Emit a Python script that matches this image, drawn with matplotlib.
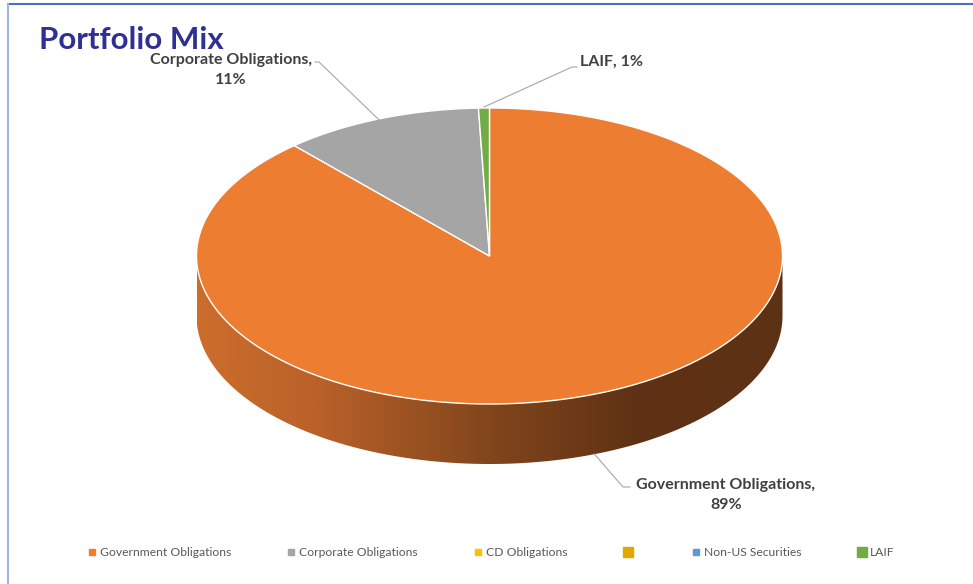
import numpy as np
import matplotlib.pyplot as plt
from matplotlib.patches import Polygon
from matplotlib.lines import Line2D
from matplotlib.colors import LinearSegmentedColormap

# data
categories = ['Government Obligations', 'Corporate Obligations', 'CD Obligations', '', 'Non-US Securities', 'LAIF']
values = [88.4, 11.0, 0.0, 0.0, 0.0, 0.6]
pct_text = ['89%', '11%', '0%', '0%', '0%', '1%']
colors = ['#ED7D31', '#A5A5A5', '#FFC000', '#E0A800', '#5B9BD5', '#70AD47']
legend_sizes = [4.5, 4.5, 4.5, 7.5, 4.5, 6.5]

plt.rcParams['font.family'] = ['Lato', 'DejaVu Sans']

fig = plt.figure(figsize=(9.73, 5.84), dpi=100)
ax = fig.add_axes([0, 0, 1, 1])

cx, cy, a, b, depth = 489.5, 256, 293, 148, 60


def rim(t, dy=0):
    t = np.radians(t)
    return cx + a * np.cos(t), cy - b * np.sin(t) + dy


# side of the disc (front half)
t = np.linspace(180, 360, 300)
xt, yt = rim(t)
xb, yb = rim(t[::-1], depth)
side = Polygon(np.column_stack([np.r_[xt, xb], np.r_[yt, yb]]), closed=True,
               fc='none', ec='none')
ax.add_patch(side)
cmap = LinearSegmentedColormap.from_list(
    'side', [(0, '#CC6D2C'), (0.2, '#BA622A'), (0.5, '#82451C'),
             (0.75, '#5F3214'), (1, '#5D3114')])
grad = np.linspace(0, 1, 512)[None, :]
im = ax.imshow(grad, cmap=cmap, extent=[cx - a, cx + a, cy + b + depth + 2, cy],
               aspect='auto', zorder=1, interpolation='bilinear')
im.set_clip_path(side)

# top wedges, clockwise from 12 o'clock
total = sum(values)
cum = 0
mids = []
for v, c in zip(values, colors):
    start = 90 - 360 * cum / total
    cum += v
    end = 90 - 360 * cum / total
    mids.append((start + end) / 2)
    if v == 0:
        continue
    tt = np.linspace(start, end, max(int(abs(start - end)) * 2, 4))
    x, y = rim(tt)
    pts = np.column_stack([np.r_[cx, x], np.r_[cy, y]])
    ax.add_patch(Polygon(pts, closed=True, fc=c, ec='white', lw=1.0, zorder=2))

# data labels with leader lines
lab_col = '#404040'
line_col = '#A6A6A6'
# Corporate
ax.text(231, 70, f'{categories[1]},\n{pct_text[1]}', ha='center', va='center',
        fontsize=11.5, fontweight='bold', color=lab_col, linespacing=1.6)
px, py = rim(mids[1])
ax.plot([315, 319, px, ], [62, 62, py + 2], color=line_col, lw=0.8, zorder=3)
# LAIF
ax.text(580, 62, f'{categories[5]}, {pct_text[5]}', ha='left', va='center',
        fontsize=11.5, fontweight='bold', color=lab_col)
px, py = rim(mids[5])
ax.plot([577, 572, px], [67, 67, py - 1], color=line_col, lw=0.8, zorder=3)
# Government
ax.text(726, 495, f'{categories[0]},\n{pct_text[0]}', ha='center', va='center',
        fontsize=11.5, fontweight='bold', color=lab_col, linespacing=1.6)
px, py = rim(-69, depth)
ax.plot([630, 623, px], [487, 487, py], color=line_col, lw=0.8, zorder=3)

# title
ax.text(39, 40, 'Portfolio Mix', ha='left', va='center', fontsize=22.5,
        fontweight='bold', color='#2E3192')

ax.set_xlim(0, 973)
ax.set_ylim(584, 0)
ax.axis('off')

# legend
handles = [Line2D([], [], marker='s', ls='none', color=c, markersize=s)
           for c, s in zip(colors, legend_sizes)]
leg = ax.legend(handles, categories, loc='center', bbox_to_anchor=(0.504, 1 - 553 / 584),
                ncol=6, frameon=False, fontsize=8.7, columnspacing=4.55,
                handletextpad=0.2, handlelength=0.9, labelcolor='#595959')

# chart border
fig.add_artist(Line2D([8 / 973, 1], [1 - 4 / 584, 1 - 4 / 584], color='#4472C4', lw=1.5))
fig.add_artist(Line2D([8 / 973, 8 / 973], [0, 1 - 4 / 584], color='#9DB4E0', lw=1.5))

fig.savefig('out.png', dpi=100)
